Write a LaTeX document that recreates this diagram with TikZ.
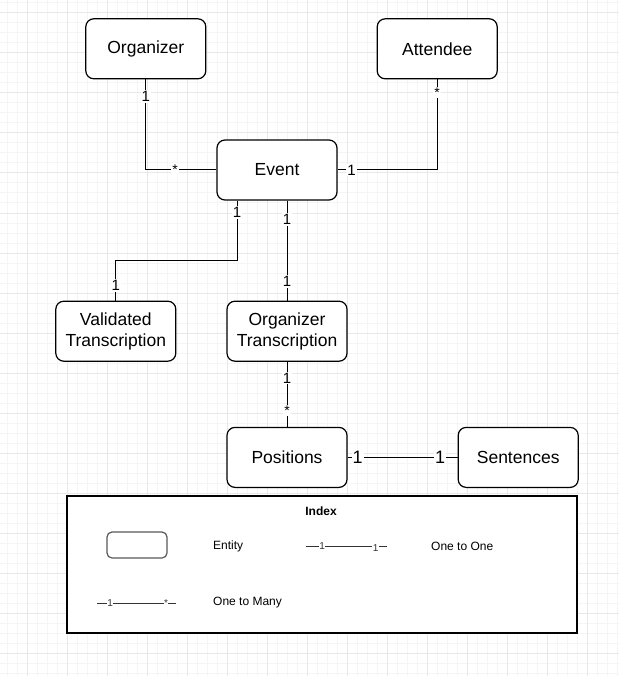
\documentclass[tikz,border=0pt]{standalone}
\usepackage{fontspec}
\setmainfont{Liberation Sans}
\usepackage{xcolor}
\usetikzlibrary{positioning}

\begin{document}
\begin{tikzpicture}[x=1pt, y=-1pt, node distance=60pt]
    \tikzstyle{entity}=[rectangle, draw, rounded corners=8pt, line width=1.2pt, fill=white, minimum width=120pt, minimum height=60pt, inner sep=0pt, align=center, font=\fontsize{17.5}{21}\selectfont]
    \tikzstyle{rel}=[line width=1pt]
    \tikzstyle{lbl}=[fill=white, inner sep=1pt, font=\fontsize{15}{15}\selectfont]
    \tikzstyle{lblbig}=[fill=white, inner sep=1pt, font=\fontsize{18}{18}\selectfont]
    \tikzstyle{star}=[fill=white, inner sep=1pt, font=\fontsize{14}{14}\selectfont]
    \tikzstyle{minorgrid}=[line width=1pt, gray!8]
    \tikzstyle{majorgrid}=[line width=1pt, gray!18]
    \tikzstyle{legtext}=[inner sep=0pt, anchor=west, font=\fontsize{12}{12}\selectfont]
    \tikzstyle{leglbl}=[fill=white, inner sep=0.5pt, font=\fontsize{10}{10}\selectfont]
    \tikzstyle{legline}=[line width=1pt, black!80]

    \useasboundingbox (0,0) rectangle (619,676);
    \fill[white] (0,0) rectangle (619,676);

    % background grid
    \foreach \gx in {7,17,...,617} \draw[minorgrid] (\gx,0) -- (\gx,676);
    \foreach \gy in {3,13,...,673} \draw[minorgrid] (0,\gy) -- (619,\gy);
    \foreach \gx in {27,67,...,607} \draw[majorgrid] (\gx,0) -- (\gx,676);
    \foreach \gy in {13,53,...,653} \draw[majorgrid] (0,\gy) -- (619,\gy);

    % entities
    \node[entity]   (E) at (277,170)                      {Event};
    \node[entity]   (O)  [above left=60pt and 10pt of E]  {Organizer};
    \node[entity]   (A)  [above right=60pt and 39pt of E] {Attendee};
    \node[entity]   (OT) [below=100pt of E, xshift=10pt]  {Organizer\\Transcription};
    \node[entity]   (V)  [left=50pt of OT]                {Validated\\Transcription};
    \node[entity]   (P)  [below=65pt of OT]               {Positions};
    \node[entity]   (S)  [right=110pt of P]               {Sentences};

    % relations
    \draw[rel] (O.south) |- node[lbl, pos=0.094] {1} node[star, pos=0.707] {*} (E.west);
    \draw[rel] (E.east) -| node[lbl, pos=0.07] {1} node[star, pos=0.928] {*} (A.south);
    \draw[rel] ([xshift=-40pt]E.south) -- node[lbl, pos=0.2] {1} ++(0,60) -| node[lbl, pos=0.81] {1} (V.north);
    \draw[rel] (E.south -| OT.north) -- node[lbl, pos=0.19] {1} node[lbl, pos=0.81] {1} (OT.north);
    \draw[rel] (OT.south) -- node[lbl, pos=0.25] {1} node[star, pos=0.75] {*} (P.north);
    \draw[rel] (P.east) -- node[lblbig, pos=0.09] {1} node[lblbig, pos=0.84] {1} (S.west);

    % index
    \node[draw, line width=1.5pt, fill=white, minimum width=510pt, minimum height=137pt] (L) at (322,564.5) {};
    \node[font=\bfseries\fontsize{12}{12}\selectfont] (Lidx) at (321,511) {Index};
    \node[draw=black!65, rounded corners=5pt, line width=1.2pt, minimum width=60pt, minimum height=26pt] (LE) at (137,545) {};
    \node[legtext] (LEt) at (213,546) {Entity};
    \coordinate (LAa) at (306,546);
    \coordinate (LAb) at (387,546);
    \draw[legline] (LAa) -- node[leglbl, pos=0.2] {1} node[leglbl, pos=0.86, yshift=-2pt] {1} (LAb);
    \node[legtext] (LAt) at (431,546) {One to One};
    \coordinate (LBa) at (97,603);
    \coordinate (LBb) at (176,603);
    \draw[legline] (LBa) -- node[leglbl, pos=0.165] {1} node[leglbl, pos=0.873] {*} (LBb);
    \node[legtext] (LBt) at (213,603) {One to Many};

\end{tikzpicture}
\end{document}
